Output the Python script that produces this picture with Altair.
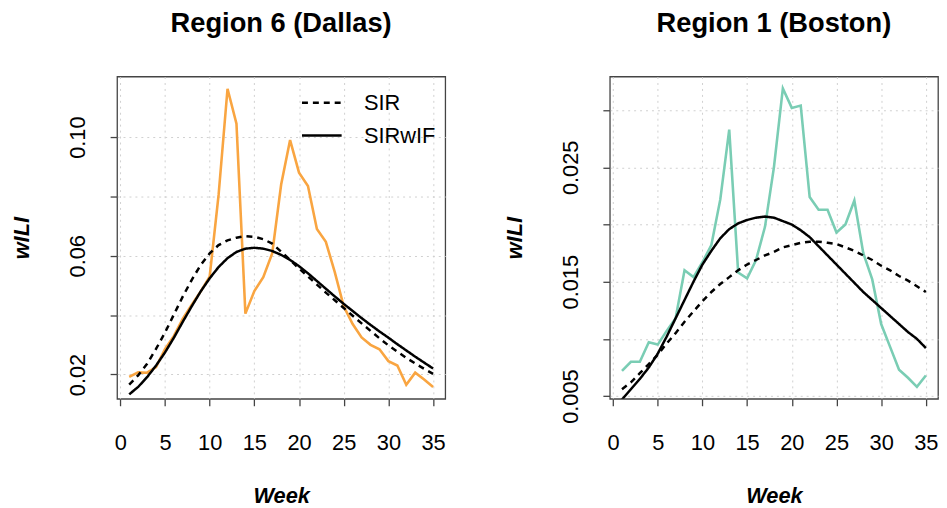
import altair as alt
import pandas as pd

weeks = list(range(1, 36))

dallas_obs = [0.0192, 0.0207, 0.0206, 0.0225, 0.0285, 0.0330, 0.0388, 0.0435, 0.0480, 0.0530,
              0.0805, 0.1163, 0.1045, 0.0405, 0.0481, 0.0528, 0.0608, 0.0840, 0.0990, 0.0880,
              0.0835, 0.0690, 0.0647, 0.0545, 0.0430, 0.0370, 0.0325, 0.0300, 0.0285, 0.0245,
              0.0230, 0.0165, 0.0206, 0.0183, 0.0158]
dallas_sir = [0.0166, 0.0197, 0.0236, 0.0286, 0.0341, 0.0402, 0.0463, 0.0519, 0.0569, 0.0608,
              0.0636, 0.0652, 0.0661, 0.0666, 0.0664, 0.0656, 0.0641, 0.0614, 0.0586, 0.0557,
              0.0530, 0.0503, 0.0476, 0.0450, 0.0424, 0.0398, 0.0372, 0.0347, 0.0322, 0.0298,
              0.0277, 0.0256, 0.0237, 0.0219, 0.0202]
dallas_sirwif = [0.0133, 0.0158, 0.0191, 0.0230, 0.0274, 0.0324, 0.0378, 0.0430, 0.0480, 0.0524,
                 0.0562, 0.0592, 0.0613, 0.0624, 0.0627, 0.0624, 0.0616, 0.0603, 0.0586, 0.0565,
                 0.0541, 0.0515, 0.0489, 0.0463, 0.0438, 0.0414, 0.0390, 0.0367, 0.0345, 0.0324,
                 0.0302, 0.0281, 0.0260, 0.0240, 0.0220]

boston_obs = [0.0072, 0.0080, 0.0080, 0.0097, 0.0095, 0.0107, 0.0118, 0.0160, 0.0154, 0.0167,
              0.0182, 0.0222, 0.0283, 0.0158, 0.0153, 0.0169, 0.0198, 0.0250, 0.0319, 0.0302,
              0.0304, 0.0224, 0.0213, 0.0213, 0.0193, 0.0200, 0.0221, 0.0175, 0.0152, 0.0113,
              0.0093, 0.0073, 0.0066, 0.0058, 0.0068]
boston_sir = [0.0056, 0.0062, 0.0070, 0.0078, 0.0086, 0.0096, 0.0105, 0.0115, 0.0124, 0.0133,
              0.0141, 0.0148, 0.0154, 0.0160, 0.0165, 0.0169, 0.0173, 0.0176, 0.0180, 0.0182,
              0.0184, 0.0185, 0.0185, 0.0184, 0.0183, 0.0180, 0.0177, 0.0173, 0.0169, 0.0164,
              0.0160, 0.0155, 0.0151, 0.0146, 0.0141]
boston_sirwif = [0.0047, 0.0056, 0.0065, 0.0075, 0.0087, 0.0102, 0.0118, 0.0134, 0.0150, 0.0165,
                 0.0177, 0.0188, 0.0196, 0.0201, 0.0204, 0.0206, 0.0207, 0.0206, 0.0203, 0.0200,
                 0.0195, 0.0189, 0.0181, 0.0173, 0.0165, 0.0157, 0.0149, 0.0141, 0.0134, 0.0127,
                 0.0120, 0.0113, 0.0106, 0.0100, 0.0092]

x_ticks = [0, 5, 10, 15, 20, 25, 30, 35]
dallas_yticks = [0.02, 0.04, 0.06, 0.08, 0.10]
boston_yticks = [0.005, 0.010, 0.015, 0.020, 0.025, 0.030]
models = ["SIR", "SIRwIF"]

FONT = "Liberation Sans"
W, H = 331, 325


def panel(title, obs, sir, wif, color, ydomain, yticks, label_expr, show_legend):
    obs_df = pd.DataFrame({"week": weeks, "value": obs})
    mod_df = pd.DataFrame({
        "week": weeks + weeks,
        "value": sir + wif,
        "model": [models[0]] * len(weeks) + [models[1]] * len(weeks),
    })
    x = alt.X("week:Q",
              scale=alt.Scale(domain=[-0.36, 36.36], nice=False, zero=False),
              axis=alt.Axis(values=x_ticks, title="Week", format="d"))
    y = alt.Y("value:Q",
              scale=alt.Scale(domain=ydomain, nice=False, zero=False),
              axis=alt.Axis(values=yticks, title="wILI", labelExpr=label_expr,
                            labelAngle=270, labelAlign="center", labelBaseline="bottom"))
    obs_layer = alt.Chart(obs_df).mark_line(color=color, strokeWidth=2.6, clip=True).encode(x=x, y=y)
    if show_legend:
        leg = alt.Legend(orient="none", legendX=185, legendY=5, title=None,
                         symbolType="stroke", symbolSize=1600, symbolStrokeWidth=2.5,
                         symbolStrokeColor="black", labelFontSize=22, labelFont=FONT,
                         labelColor="black", labelOffset=21, rowPadding=-16, padding=0)
    else:
        leg = None
    dash = alt.StrokeDash("model:N",
                          scale=alt.Scale(domain=models, range=[[6, 5], [1, 0]]),
                          legend=leg)
    mod_layer = alt.Chart(mod_df).mark_line(color="black", strokeWidth=2.5, clip=True).encode(
        x=x, y=y, strokeDash=dash, detail="model:N")
    return alt.layer(obs_layer, mod_layer).properties(
        width=W, height=H,
        title=alt.TitleParams(title, anchor="middle", frame="group"))


left = panel("Region 6 (Dallas)", dallas_obs, dallas_sir, dallas_sirwif, "#F9A541",
             [0.0118, 0.1204], dallas_yticks,
             "round(datum.value*100) % 4 == 2 ? format(datum.value, '.2f') : ''", True)
right = panel("Region 1 (Boston)", boston_obs, boston_sir, boston_sirwif, "#7ACDB4",
              [0.00476, 0.03294], boston_yticks,
              "round(datum.value*1000) % 10 == 5 ? format(datum.value, '.3f') : ''", False)

chart = alt.hconcat(left, right, spacing=57).resolve_scale(
    y="independent", x="independent", strokeDash="independent"
).resolve_legend(strokeDash="independent").properties(
    padding={"left": 2, "top": -1, "right": 0, "bottom": 0}
).configure_view(
    stroke="#444", strokeWidth=1.3
).configure_axis(
    domain=False, grid=True, gridColor="#cfcfcf", gridDash=[2, 4], gridWidth=1,
    tickColor="#444", tickSize=7, tickWidth=1.3,
    labelFont=FONT, labelFontSize=22, labelColor="black",
    titleFont=FONT, titleFontSize=22, titleFontWeight="bold", titleFontStyle="italic",
    titleColor="black"
).configure_axisX(
    labelPadding=27, titlePadding=33
).configure_axisY(
    labelPadding=21, titlePadding=33
).configure_title(
    font=FONT, fontSize=27.5, fontWeight="bold", color="black", offset=39
)

chart.save("out.html", embed_options={"renderer": "svg", "actions": False})
